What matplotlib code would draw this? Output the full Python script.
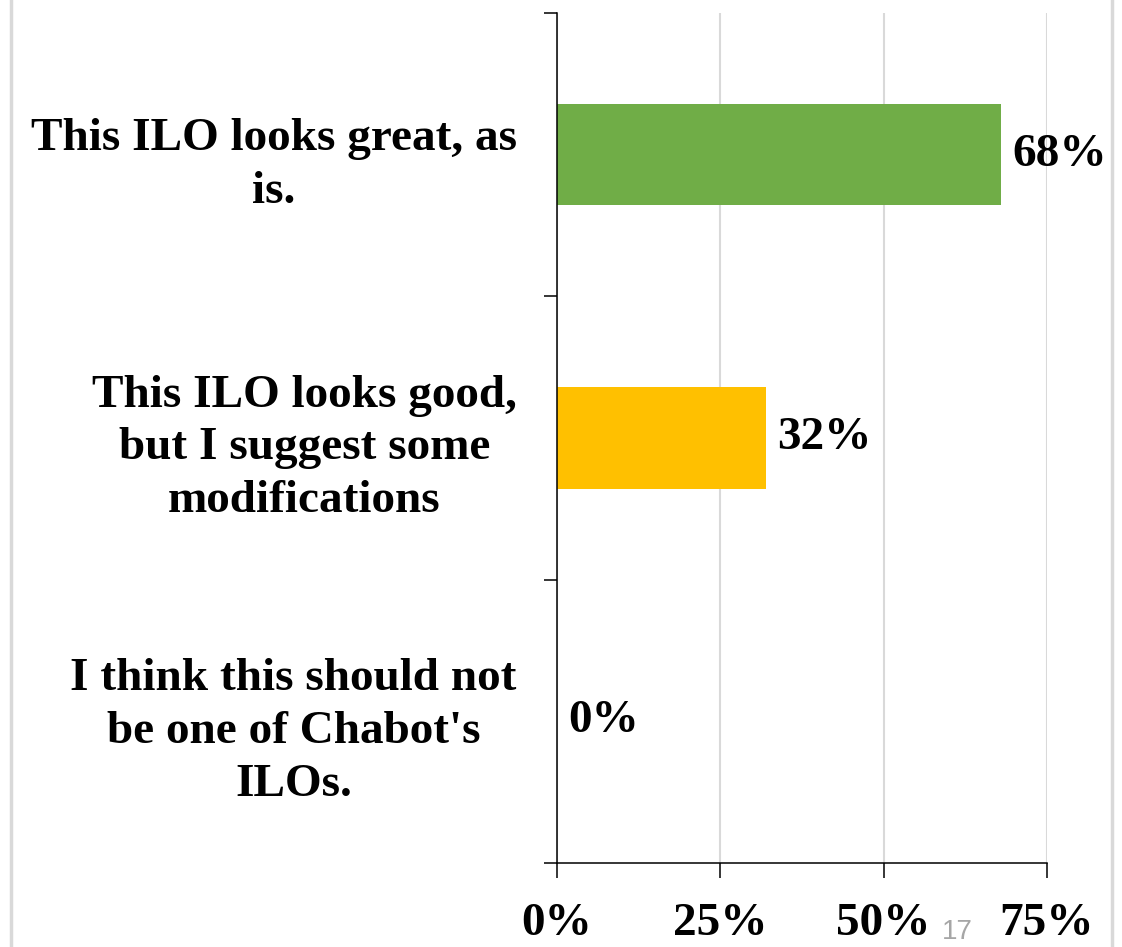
import matplotlib.pyplot as plt
from matplotlib.lines import Line2D
from matplotlib.ticker import FixedLocator, PercentFormatter

# datos del grafico
categories = ["This ILO looks great, as\nis.",
              "This ILO looks good,\nbut I suggest some\nmodifications",
              "I think this should not\nbe one of Chabot's\nILOs."]
values = [0.68, 0.32, 0.0]
value_labels = ["68%", "32%", "0%"]
bar_colors = ['#70AD47', '#FFC000', '#A5A5A5']
x_ticks = [0, 0.25, 0.50, 0.75]

plt.rcParams['font.family'] = ['Liberation Serif', 'DejaVu Serif']
plt.rcParams['font.weight'] = 'bold'

fig = plt.figure(figsize=(11.22, 9.47), dpi=100)
ax = fig.add_axes([557 / 1122, 1 - 863 / 947, 490 / 1122, 850 / 947])

ypos = list(range(len(categories)))
bars = ax.barh(ypos, values, height=0.357, color=bar_colors, zorder=3)
ax.set_ylim(len(categories) - 0.5, -0.5)
ax.set_xlim(0, 0.75)

# etiquetas de valores
for b, lab in zip(bars, value_labels):
    ax.annotate(lab, (b.get_width(), b.get_y() + b.get_height() / 2),
                xytext=(8, 0), textcoords='offset points',
                ha='left', va='center', fontsize=34, fontweight='bold')

ax.set_yticks(ypos)
ax.set_yticklabels(categories, fontsize=34, fontweight='bold',
                   multialignment='center', linespacing=1.34)
ax.tick_params(axis='y', which='major', length=0, pad=29)
ax.yaxis.set_minor_locator(FixedLocator([-0.5, 0.5, 1.5, 2.5]))
ax.tick_params(axis='y', which='minor', length=9.5, width=1.1, direction='out')

ax.set_xticks(x_ticks)
ax.xaxis.set_major_formatter(PercentFormatter(1.0, decimals=0))
ax.tick_params(axis='x', length=11, width=1.1, direction='out', pad=18, labelsize=34)
for t in ax.get_xticklabels():
    t.set_fontweight('bold')

ax.grid(axis='x', color='#D9D9D9', linewidth=1.5, zorder=0)
ax.grid(axis='y', visible=False)
for s in ['top', 'right']:
    ax.spines[s].set_visible(False)
ax.spines['left'].set_linewidth(1.1)
ax.spines['bottom'].set_linewidth(1.1)
ax.spines['left'].set_zorder(4)

# bordes de la diapositiva y numero de pagina
fig.add_artist(Line2D([11 / 1122, 11 / 1122], [0, 1], color='#D9D9D9', lw=2.5))
fig.add_artist(Line2D([1112 / 1122, 1112 / 1122], [0, 1], color='#D9D9D9', lw=2.5))
fig.text(957 / 1122, 2 / 947, "17", color='#A6A6A6', fontsize=20,
         fontweight='normal', family='Liberation Sans', ha='center', va='bottom')

plt.savefig('out.png', dpi=100)
